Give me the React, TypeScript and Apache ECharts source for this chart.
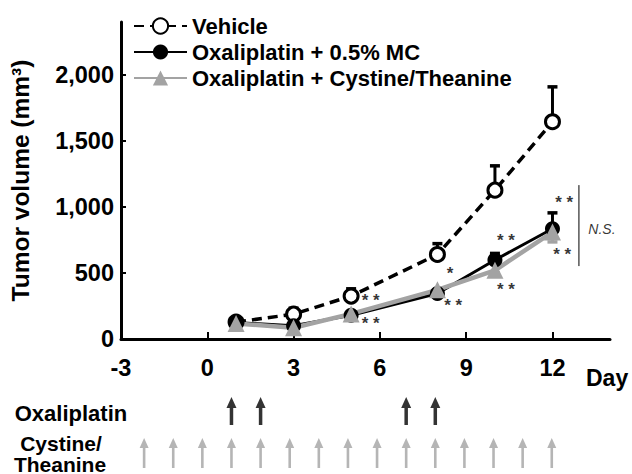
import React, { useEffect, useRef } from "react";
import * as echarts from "echarts";

const days = [1, 3, 5, 8, 10, 12];
const vehicle = [128, 188, 325, 640, 1127, 1645];
const vehicleErr = [10, 45, 55, 82, 184, 264];
const oxaMC = [125, 100, 180, 345, 598, 835];
const oxaMCErr = [10, 12, 15, 20, 50, 120];
const oxaCys = [118, 85, 190, 372, 520, 810];
const oxaCysErr = [-10, -10, -12, -15, -20, -75];

const xTicks = [-3, 0, 3, 6, 9, 12];
const yTicks = [0, 500, 1000, 1500, 2000];

const oxaliplatinDays = [1, 2, 7, 8];
const cystineDays = [-2, -1, 0, 1, 2, 3, 4, 5, 6, 7, 8, 9, 10, 11, 12];
const scheduleRows = ["Cystine/Theanine", "Oxaliplatin"];

const annX = [5.68, 5.68, 8.44, 8.55, 10.38, 10.38, 12.41, 12.34, 13.72];
const annY = [290, 121, 497, 257, 749, 371, 1031, 643, 832];
const annText = ["* *", "* *", "*", "* *", "* *", "* *", "* *", "* *", "N.S."];
const nsLineX = [12.92, 12.92];
const nsLineY = [1165, 552];

const FONT = "Liberation Sans, Arial, sans-serif";
const GREY = "#a3a3a3";

function errSeries(name: string, vals: number[], errs: number[], color: string) {
  return {
    name,
    type: "custom",
    z: 1,
    data: days.map((d, i) => [d, vals[i], errs[i]]),
    renderItem: (params: any, api: any) => {
      const x = api.value(0);
      const y = api.value(1);
      const e = api.value(2);
      const a = api.coord([x, y]);
      const b = api.coord([x, y + e]);
      return {
        type: "group",
        children: [
          { type: "line", shape: { x1: a[0], y1: a[1], x2: b[0], y2: b[1] }, style: { stroke: color, lineWidth: 3 } },
          { type: "line", shape: { x1: b[0] - 5, y1: b[1], x2: b[0] + 5, y2: b[1] }, style: { stroke: color, lineWidth: 3.5 } },
        ],
      };
    },
  };
}

export default function App() {
  const ref = useRef<HTMLDivElement>(null);
  useEffect(() => {
    document.body.style.margin = "0";
    const chart = echarts.init(ref.current!, undefined, { renderer: "svg" });
    const option: any = {
      animation: false,
      backgroundColor: "#fff",
      textStyle: { fontFamily: FONT },
      legend: {
        data: ["Vehicle", "Oxaliplatin + 0.5% MC", "Oxaliplatin + Cystine/Theanine"],
        orient: "vertical",
        left: 133,
        top: 15,
        padding: 0,
        itemWidth: 53,
        itemHeight: 19,
        itemGap: 4,
        textStyle: { fontSize: 22, fontWeight: "bold", color: "#000", fontFamily: FONT },
      },
      grid: [
        { left: 115, right: 22, top: 22, bottom: 135 },
        { left: 115, right: 22, top: 390, height: 92 },
      ],
      xAxis: [
        {
          type: "value",
          min: -3,
          max: 14,
          gridIndex: 0,
          axisLine: { show: true, onZero: false, lineStyle: { color: "#000", width: 3 } },
          axisTick: { show: true, inside: true, length: 7, customValues: xTicks, lineStyle: { color: "#000", width: 2 } },
          axisLabel: { customValues: xTicks, margin: 17, fontSize: 23.5, fontWeight: "bold", color: "#000", fontFamily: FONT },
          splitLine: { show: false },
        },
        { type: "value", min: -3, max: 14, gridIndex: 1, show: false },
      ],
      yAxis: [
        {
          type: "value",
          min: 0,
          max: 2400,
          gridIndex: 0,
          name: "Tumor volume (mm³)",
          nameLocation: "middle",
          nameGap: 88,
          nameRotate: 90,
          nameTextStyle: { fontSize: 24.5, fontWeight: "bold", color: "#000", fontFamily: FONT },
          axisLine: { show: true, onZero: false, lineStyle: { color: "#000", width: 3 } },
          axisTick: { show: true, inside: true, length: 5, customValues: yTicks, lineStyle: { color: "#000", width: 2 } },
          axisLabel: {
            customValues: yTicks,
            margin: 7,
            fontSize: 23.5,
            fontWeight: "bold",
            color: "#000",
            fontFamily: FONT,
            formatter: (v: number) => v.toLocaleString("en-US"),
          },
          splitLine: { show: false },
        },
        { type: "category", data: scheduleRows, gridIndex: 1, show: false },
      ],
      series: [
        errSeries("vehErr", vehicle, vehicleErr, "#000"),
        errSeries("mcErr", oxaMC, oxaMCErr, "#000"),
        errSeries("cysErr", oxaCys, oxaCysErr, GREY),
        {
          name: "Vehicle",
          type: "line",
          data: days.map((d, i) => [d, vehicle[i]]),
          symbol: "circle",
          symbolSize: 14,
          itemStyle: { color: "#fff", borderColor: "#000", borderWidth: 3 },
          lineStyle: { color: "#000", width: 3.5, type: [10, 6] },
        },
        {
          name: "Oxaliplatin + 0.5% MC",
          type: "line",
          data: days.map((d, i) => [d, oxaMC[i]]),
          symbol: "circle",
          symbolSize: 15,
          itemStyle: { color: "#000" },
          lineStyle: { color: "#000", width: 3 },
        },
        {
          name: "Oxaliplatin + Cystine/Theanine",
          type: "line",
          data: days.map((d, i) => [d, oxaCys[i]]),
          symbol: "triangle",
          symbolSize: 17,
          itemStyle: { color: GREY },
          lineStyle: { color: GREY, width: 4.5 },
        },
        {
          name: "nsLine",
          type: "line",
          data: nsLineX.map((x, i) => [x, nsLineY[i]]),
          symbol: "none",
          lineStyle: { color: "#000", width: 1 },
          silent: true,
        },
        {
          name: "annotations",
          type: "scatter",
          symbolSize: 1,
          z: 5,
          itemStyle: { color: "rgba(0,0,0,0)" },
          data: annX.map((x, i) => ({
            value: [x, annY[i], annText[i]],
            label:
              annText[i] === "N.S."
                ? { fontStyle: "italic", fontWeight: "normal", fontSize: 14, color: "#000", offset: [0, 0] }
                : {},
          })),
          label: {
            show: true,
            position: "inside",
            formatter: (p: any) => p.value[2],
            color: "#000",
            fontSize: 17,
            fontWeight: "bold",
            offset: [0, 4],
            fontFamily: FONT,
          },
          labelLayout: { hideOverlap: false },
        },
        {
          name: "Oxaliplatin dosing",
          type: "scatter",
          xAxisIndex: 1,
          yAxisIndex: 1,
          data: oxaliplatinDays.map((d) => [d, "Oxaliplatin"]),
          symbol: "path://M5,0 L10,11 L6.75,11 L6.75,28 L3.25,28 L3.25,11 L0,11 Z",
          symbolSize: [10, 28],
          itemStyle: { color: "#000" },
        },
        {
          name: "Cystine dosing",
          type: "scatter",
          xAxisIndex: 1,
          yAxisIndex: 1,
          data: cystineDays.map((d) => [d, "Cystine/Theanine"]),
          symbol: "path://M4.5,0 L9,10 L5.8,10 L5.8,30 L3.2,30 L3.2,10 L0,10 Z",
          symbolSize: [9, 30],
          itemStyle: { color: GREY },
        },
      ],
      graphic: [
        {
          type: "text",
          style: { text: "Day", x: 586, y: 378, fill: "#000", font: `bold 23px ${FONT}`, align: "left", verticalAlign: "middle", textAlign: "left", textVerticalAlign: "middle" },
        },
        {
          type: "text",
          style: { text: "Oxaliplatin", x: 71, y: 413, fill: "#000", font: `bold 22px ${FONT}`, align: "center", verticalAlign: "middle", textAlign: "center", textVerticalAlign: "middle" },
        },
        {
          type: "text",
          style: { text: "Cystine/", x: 61, y: 443, fill: "#000", font: `bold 21px ${FONT}`, align: "center", verticalAlign: "middle", textAlign: "center", textVerticalAlign: "middle" },
        },
        {
          type: "text",
          style: { text: "Theanine", x: 60, y: 464, fill: "#000", font: `bold 21px ${FONT}`, align: "center", verticalAlign: "middle", textAlign: "center", textVerticalAlign: "middle" },
        },
      ],
    };
    chart.setOption(option);
    return () => chart.dispose();
  }, []);
  return <div ref={ref} style={{ width: 632, height: 474 }} />;
}
